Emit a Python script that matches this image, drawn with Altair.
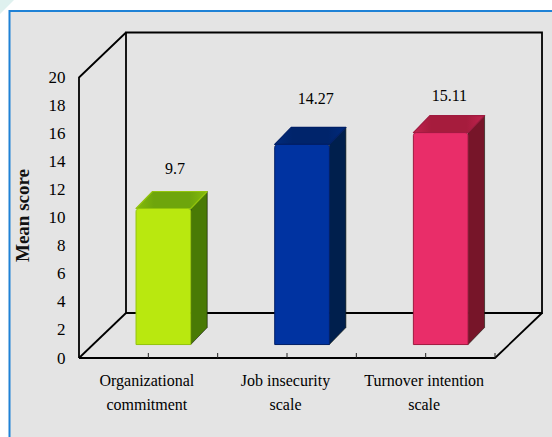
import altair as alt
import pandas as pd

categories = ["Organizational commitment", "Job insecurity scale", "Turnover intention scale"]
label_lines = [["Organizational", "commitment"], ["Job insecurity", "scale"], ["Turnover intention", "scale"]]
scores = [9.7, 14.27, 15.11]
score_text = ["9.7", "14.27", "15.11"]
front_colors = ["#b9e80f", "#0033a1", "#e92d69"]
top_colors = ["#6ea50c", "#00246b", "#a61c3d"]
top_light_colors = ["#84bb0c", "#002a7c", "#c2224f"]
side_colors = ["#497a05", "#001f4d", "#771529"]
edge_colors = ["#93c40c", "#001f66", "#a01a40"]
y_ticks = list(range(0, 21, 2))
x_ticks = [0.5, 1, 1.5, 2, 2.5, 3]

# Pixel size of one x unit (one category) and one y unit (one score point)
PX_X = 138.67
PX_Y = 14.025
PLOT_W, PLOT_H = 463, 325
FONT = "Liberation Serif"

# Oblique depth of the box and of the bars, in axis units
BOX_DX, BOX_DY = 47 / PX_X, 45 / PX_Y
BAR_DX, BAR_DY = 16.5 / PX_X, 17 / PX_Y
BAR_W = 54.7 / PX_X
BAR_SHIFT = -12.3 / PX_X
BAR_BASE = 0.96

# Value labels sit above the bars, a little unevenly
LABEL_LIFT = [2.82, 3.24, 2.61]
LABEL_NUDGE = [39, 41, 36]

expr = " : ".join(
    f"datum.value == {i + 0.5} ? {lines!r}" for i, lines in enumerate(label_lines)
) + " : ''"

x_scale = alt.Scale(domain=[0, PLOT_W / PX_X], range=[0, PLOT_W], nice=False, zero=False, clamp=False)
y_scale = alt.Scale(domain=[0, PLOT_H / PX_Y], nice=False, zero=False, clamp=False)
x_axis = alt.Axis(
    values=[0.5, 1.5, 2.5], labelExpr=expr, domain=False, ticks=False, grid=False, zindex=1,
    labelFont=FONT, labelFontSize=16, labelColor="#000000", labelPadding=14, labelOffset=-2,
    labelLineHeight=24, labelOverlap=False, labelBound=False, labelLimit=0, labelFlush=False,
)
y_axis = alt.Axis(
    values=y_ticks, domain=False, ticks=False, grid=False, zindex=1,
    labelFont=FONT, labelFontSize=17, labelColor="#000000", labelPadding=14,
    titleFont=FONT, titleFontSize=19, titleFontWeight="bold", titleColor="#111111",
    titleX=-47, titleY=182, labelOverlap=False, labelBound=False, labelFlush=False,
)
X = lambda f="x": alt.X(f"{f}:Q", scale=x_scale, axis=x_axis, title=None)
Y = lambda f="y": alt.Y(f"{f}:Q", scale=y_scale, axis=y_axis, title="Mean score")

# Panel behind the chart, running off the right and bottom edges
to_x = lambda px: (px - 79) / PX_X
to_y = lambda py: (358 - py) / PX_Y

panel = alt.Chart(pd.DataFrame([{
    "x": to_x(9.5), "x2": to_x(570), "y": to_y(11), "y2": to_y(450)
}])).mark_rect(fill="#e4e4e4", stroke="#1f82d6", strokeWidth=2).encode(
    x=X(), x2="x2:Q", y=Y(), y2="y2:Q"
)

corner = alt.Chart(pd.DataFrame([
    {"x": to_x(0), "y": to_y(14), "y2": to_y(0)},
    {"x": to_x(14), "y": to_y(0), "y2": to_y(0)},
])).mark_area(color="#dff1ef", clip=False).encode(x=X(), y=Y(), y2="y2:Q")

# Wire frame of the box: front-left wall, back wall and floor
frame_paths = [
    [(0, 0), (0, 20), (BOX_DX, 20 + BOX_DY)],
    [(0, 0), (BOX_DX, BOX_DY)],
    [(0, 0), (3, 0), (3 + BOX_DX, BOX_DY)],
    [(BOX_DX, BOX_DY), (3 + BOX_DX, BOX_DY)],
]
frame_rows = [
    {"path": i, "step": j, "x": p[0], "y": p[1]}
    for i, path in enumerate(frame_paths) for j, p in enumerate(path)
]
frame = alt.Chart(pd.DataFrame(frame_rows)).mark_line(color="#000000", strokeWidth=1.8).encode(
    x=X(), y=Y(), detail="path:N", order="step:Q"
)
wall_rect = alt.Chart(pd.DataFrame([{
    "x": BOX_DX, "x2": 3 + BOX_DX, "y": BOX_DY, "y2": 20 + BOX_DY
}])).mark_rect(fill="#e4e4e4", stroke="#000000", strokeWidth=1.8).encode(
    x=X(), x2="x2:Q", y=Y(), y2="y2:Q"
)

ticks = alt.Chart(pd.DataFrame({"x": x_ticks, "y": [0.0] * 6, "y2": [5 / PX_Y] * 6})).mark_rule(
    color="#222222", strokeWidth=1
).encode(x=X(), y=Y(), y2="y2:Q")

# Bars: one front rectangle plus two oblique faces per category
bars = []
for i, (score, front, top, light, side, edge) in enumerate(
    zip(scores, front_colors, top_colors, top_light_colors, side_colors, edge_colors)
):
    x0 = i + 0.5 + BAR_SHIFT
    x1 = x0 + BAR_W
    t = BAR_BASE + score
    side_df = pd.DataFrame([
        {"x": x1, "y": BAR_BASE, "y2": t},
        {"x": x1 + BAR_DX, "y": BAR_BASE + BAR_DY, "y2": t + BAR_DY},
    ])
    top_df = pd.DataFrame([
        {"x": x0, "y": t, "y2": t},
        {"x": x0 + BAR_DX, "y": t + BAR_DY, "y2": t},
        {"x": x1, "y": t + BAR_DY, "y2": t},
        {"x": x1 + BAR_DX, "y": t + BAR_DY, "y2": t + BAR_DY},
    ])
    front_df = pd.DataFrame([{"x": x0, "x2": x1, "y": BAR_BASE, "y2": t, "category": categories[i], "score": score}])
    top_fill = alt.Gradient(
        gradient="linear", x1=0, x2=1, y1=0, y2=0,
        stops=[alt.GradientStop(color=light, offset=0), alt.GradientStop(color=top, offset=0.25),
               alt.GradientStop(color=top, offset=0.75), alt.GradientStop(color=light, offset=1)],
    )
    bars.append(alt.Chart(side_df).mark_area(color=side, stroke="#10180a", strokeWidth=0.6, opacity=1).encode(
        x=X(), y=Y(), y2="y2:Q"))
    bars.append(alt.Chart(top_df).mark_area(color=top_fill, stroke=edge, strokeWidth=1.2, strokeJoin="round").encode(
        x=X(), y=Y(), y2="y2:Q"))
    bars.append(alt.Chart(front_df).mark_rect(
        fill=front, stroke=edge, strokeWidth=1, cornerRadiusTopLeft=3, cornerRadiusTopRight=3
    ).encode(x=X(), x2="x2:Q", y=Y(), y2="y2:Q"))

label_df = pd.DataFrame({
    "x": [i + 0.5 + BAR_SHIFT + n / PX_X for i, n in enumerate(LABEL_NUDGE)],
    "top": [BAR_BASE + s + lift for s, lift in zip(scores, LABEL_LIFT)],
    "text": score_text,
})
value_labels = alt.Chart(label_df).mark_text(
    font=FONT, fontSize=16, color="#000000", baseline="middle", align="center"
).encode(x=X(), y=Y("top"), text="text:N")

chart = alt.layer(panel, corner, wall_rect, frame, ticks, *bars, value_labels).properties(
    width=PLOT_W, height=PLOT_H,
    padding={"left": 79, "top": 33, "right": 10, "bottom": 79},
    autosize=alt.AutoSizeParams(type="none"),
    background="#ffffff",
).configure_view(stroke=None)

chart.save("out.html", embed_options={"renderer": "svg", "actions": False})
